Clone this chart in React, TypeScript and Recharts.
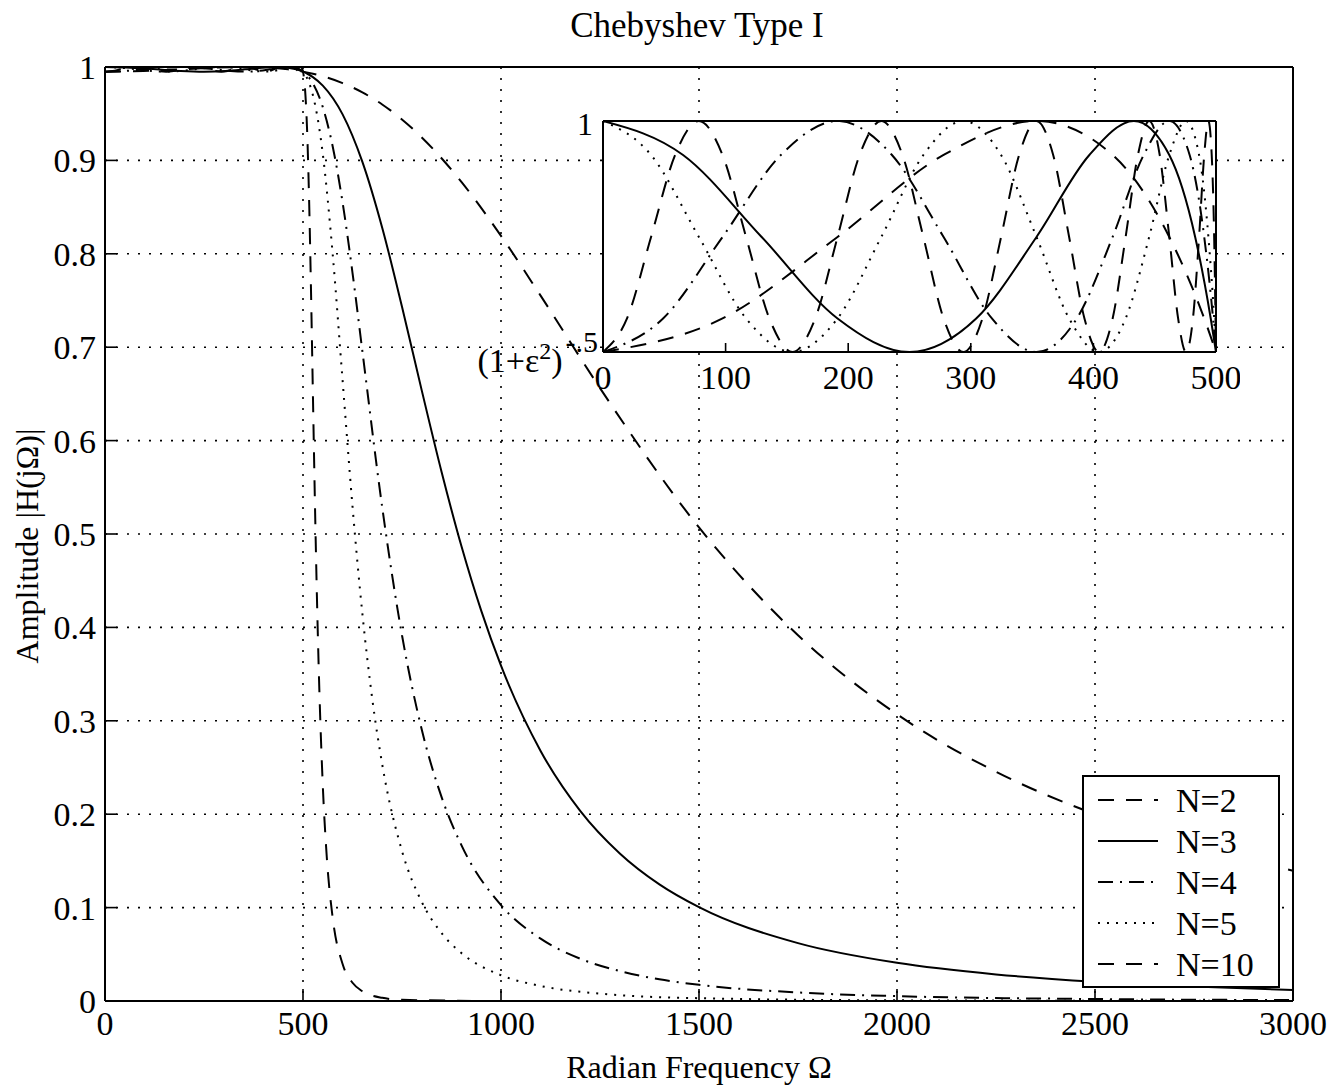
import React from 'react';
import { LineChart, Line, XAxis, YAxis, CartesianGrid, Legend } from 'recharts';

const FONT = '"Liberation Serif", "Times New Roman", Times, serif';

// ---- axis ticks ----
const xTicks = [0, 500, 1000, 1500, 2000, 2500, 3000];
const yTicks = [0, 0.1, 0.2, 0.3, 0.4, 0.5, 0.6, 0.7, 0.8, 0.9, 1];
const insetXTicks = [0, 100, 200, 300, 400, 500];
const insetYTicks = [0.99504, 1];

// ---- passband samples [Ω, |H|] (0..500), shown in the inset ----
const n2Pass = [[0, 0.99504], [97.5, 0.99576], [191.3, 0.99751], [277.8, 0.99927], [353.6, 1], [415.7, 0.99927], [461.9, 0.99751], [490.4, 0.99576], [500, 0.99504]];
const n3Pass = [[0, 1], [65.3, 0.99927], [129.4, 0.99751], [191.3, 0.99576], [250, 0.99504], [304.4, 0.99576], [353.6, 0.99751], [396.7, 0.99927], [433, 1], [461.9, 0.99927], [483, 0.99751], [495.7, 0.99576], [500, 0.99504]];
const n4Pass = [[0, 0.99504], [49, 0.99576], [97.5, 0.99751], [145.1, 0.99927], [191.3, 1], [235.7, 0.99927], [277.8, 0.99751], [317.2, 0.99576], [353.6, 0.99504], [386.5, 0.99576], [415.7, 0.99751], [441, 0.99927], [461.9, 1], [478.5, 0.99927], [490.4, 0.99751], [497.6, 0.99576], [500, 0.99504]];
const n5Pass = [[0, 1], [39.2, 0.99927], [78.2, 0.99751], [116.7, 0.99576], [154.5, 0.99504], [191.3, 0.99576], [227, 0.99751], [261.3, 0.99927], [293.9, 1], [324.7, 0.99927], [353.6, 0.99751], [380.2, 0.99576], [404.5, 0.99504], [426.3, 0.99576], [445.5, 0.99751], [461.9, 0.99927], [475.5, 1], [486.2, 0.99927], [493.8, 0.99751], [498.5, 0.99576], [500, 0.99504]];
const n10Pass = [[0, 0.99504], [19.6, 0.99576], [39.2, 0.99751], [58.8, 0.99927], [78.2, 1], [97.5, 0.99927], [116.7, 0.99751], [135.7, 0.99576], [154.5, 0.99504], [173.1, 0.99576], [191.3, 0.99751], [209.3, 0.99927], [227, 1], [244.3, 0.99927], [261.3, 0.99751], [277.8, 0.99576], [293.9, 0.99504], [309.5, 0.99576], [324.7, 0.99751], [339.4, 0.99927], [353.6, 1], [367.2, 0.99927], [380.2, 0.99751], [392.7, 0.99576], [404.5, 0.99504], [415.7, 0.99576], [426.3, 0.99751], [436.3, 0.99927], [445.5, 1], [454.1, 0.99927], [461.9, 0.99751], [469.1, 0.99576], [475.5, 0.99504], [481.2, 0.99576], [486.2, 0.99751], [490.4, 0.99927], [493.8, 1], [496.5, 0.99927], [498.5, 0.99751], [499.6, 0.99576], [500, 0.99504]];

// ---- stopband samples [Ω, |H|] (>500) ----
const n2Stop = [[525, 0.99281], [550, 0.9901], [600, 0.9828], [650, 0.9728], [700, 0.9599], [800, 0.9246], [900, 0.877], [1000, 0.8192], [1100, 0.7552], [1250, 0.6562], [1500, 0.507], [1750, 0.3916], [2000, 0.307], [2250, 0.2454], [2500, 0.2], [2750, 0.1657], [3000, 0.1395]];
const n3Stop = [[510, 0.99305], [525, 0.98921], [550, 0.98012], [600, 0.9493], [650, 0.8984], [700, 0.8279], [750, 0.7433], [800, 0.6535], [850, 0.5664], [900, 0.4871], [950, 0.4179], [1000, 0.359], [1100, 0.2677], [1200, 0.2036], [1300, 0.158], [1400, 0.1249], [1500, 0.1005], [1750, 0.062], [2000, 0.0409], [2250, 0.0285], [2500, 0.0206], [2750, 0.0154], [3000, 0.0118]];
const n4Stop = [[510, 0.99117], [525, 0.98234], [550, 0.957], [575, 0.9149], [600, 0.8549], [625, 0.7797], [650, 0.6956], [700, 0.5287], [750, 0.3916], [800, 0.2904], [850, 0.2183], [900, 0.1669], [1000, 0.1026], [1100, 0.0667], [1200, 0.0453], [1300, 0.032], [1400, 0.0232], [1500, 0.0173], [1750, 0.0091], [2000, 0.0052], [2500, 0.0021], [3000, 0.001]];
const n5Stop = [[510, 0.98832], [520, 0.97729], [530, 0.96066], [540, 0.9374], [550, 0.9068], [575, 0.7995], [600, 0.6643], [625, 0.5296], [650, 0.4144], [675, 0.3231], [700, 0.2534], [750, 0.1605], [800, 0.106], [850, 0.0726], [900, 0.0513], [1000, 0.0276], [1100, 0.0161], [1250, 0.0079], [1500, 0.003], [2000, 0.0007], [3000, 0.0001]];
const n10Stop = [[502.5, 0.98833], [505, 0.97714], [510, 0.9363], [515, 0.8652], [520, 0.7654], [525, 0.65], [530, 0.5363], [535, 0.4357], [540, 0.3519], [550, 0.2306], [560, 0.1545], [575, 0.089], [600, 0.0396], [625, 0.0195], [650, 0.0104], [700, 0.0034], [750, 0.0013], [1000, 0], [3000, 0]];

const seriesNames = ['N=2', 'N=3', 'N=4', 'N=5', 'N=10'];
const passSets = [n2Pass, n3Pass, n4Pass, n5Pass, n10Pass];
const stopSets = [n2Stop, n3Stop, n4Stop, n5Stop, n10Stop];
const dashes: (string | undefined)[] = ['16 12', undefined, '15 7 2 7', '2 7', '16 12'];

const toPts = (arr: number[][]) => arr.map(([w, a]) => ({ w, a }));

const series = seriesNames.map((name, i) => ({
  name,
  dash: dashes[i],
  inset: toPts(passSets[i]),
  main: toPts([...passSets[i], ...stopSets[i]]),
}));

const axisLineStyle = { stroke: '#000', strokeWidth: 2 };
const tickLineStyle = { stroke: '#000', strokeWidth: 1.6 };
const tickText = { fill: '#000', fontSize: 34, fontFamily: FONT };

const TitleLabel = () => (
  <text x={697} y={37} textAnchor="middle" fill="#000" fontSize={35} fontFamily={FONT}>
    Chebyshev Type I
  </text>
);

const YLabel = () => {
  const cx = 27;
  const cy = 546;
  return (
    <text x={cx} y={cy} transform={`rotate(-90 ${cx} ${cy})`} textAnchor="middle" dominantBaseline="central" fill="#000" fontSize={32} fontFamily={FONT}>
      Amplitude |H(jΩ)|
    </text>
  );
};

const InsetYTick = (props: any) => {
  const { x, y, payload } = props;
  if (payload.value === 1) {
    return (
      <text x={x - 2} y={y + 3} textAnchor="end" dominantBaseline="central" fill="#000" fontSize={32} fontFamily={FONT}>1</text>
    );
  }
  return (
    <text x={x + 3} y={y + 20} textAnchor="end" fill="#000" fontSize={34} fontFamily={FONT}>
      (1+ε<tspan dy={-13} fontSize={24}>2</tspan>
      <tspan dy={13}>)</tspan>
      <tspan dy={-20} dx={3} fontSize={30}>-.5</tspan>
    </text>
  );
};

const LegendBox = () => (
  <div style={{ width: 198, height: 213, border: '2px solid #000', background: '#fff', boxSizing: 'border-box' }}>
    <svg width={194} height={209} style={{ display: 'block' }}>
      {series.map((s, i) => {
        const y = 23 + i * 41;
        return (
          <g key={s.name}>
            <line x1={14} x2={74} y1={y} y2={y} stroke="#000" strokeWidth={2} strokeDasharray={s.dash} />
            <text x={92} y={y} dominantBaseline="central" fill="#000" fontSize={34} fontFamily={FONT}>{s.name}</text>
          </g>
        );
      })}
    </svg>
  </div>
);

export default function App() {
  return (
    <div style={{ position: 'absolute', left: 0, top: 0, width: 1335, height: 1086, background: '#fff', fontFamily: FONT }}>
      <LineChart width={1335} height={1086} margin={{ top: 66, right: 41, bottom: 0, left: 0 }}>
        <CartesianGrid stroke="#000" strokeWidth={1.6} strokeDasharray="2 9" />
        <XAxis
          dataKey="w"
          type="number"
          domain={[0, 3000]}
          ticks={xTicks}
          interval={0}
          allowDataOverflow
          height={85}
          tickSize={-12}
          tickMargin={22}
          axisLine={axisLineStyle}
          tickLine={tickLineStyle}
          tick={tickText}
          label={{ value: 'Radian Frequency Ω', position: 'insideBottom', offset: 8, fill: '#000', fontSize: 32, fontFamily: FONT }}
        />
        <XAxis
          xAxisId="t"
          orientation="top"
          dataKey="w"
          type="number"
          domain={[0, 3000]}
          ticks={xTicks}
          interval={0}
          height={1}
          tickSize={-12}
          axisLine={axisLineStyle}
          tickLine={tickLineStyle}
          tick={false}
          label={{ content: <TitleLabel /> }}
        />
        <YAxis
          type="number"
          domain={[0, 1]}
          ticks={yTicks}
          interval={0}
          allowDataOverflow
          width={105}
          tickSize={-12}
          tickMargin={21}
          axisLine={axisLineStyle}
          tickLine={tickLineStyle}
          tick={tickText}
          label={{ content: <YLabel /> }}
        />
        <YAxis
          yAxisId="r"
          orientation="right"
          type="number"
          domain={[0, 1]}
          ticks={yTicks}
          interval={0}
          width={1}
          tickSize={-12}
          axisLine={axisLineStyle}
          tickLine={tickLineStyle}
          tick={false}
        />
        {series.map((s) => (
          <Line
            key={s.name}
            name={s.name}
            data={s.main}
            dataKey="a"
            type="monotone"
            stroke="#000"
            strokeWidth={2}
            strokeDasharray={s.dash}
            dot={false}
            activeDot={false}
            isAnimationActive={false}
          />
        ))}
        <Legend
          layout="vertical"
          align="center"
          verticalAlign="middle"
          content={<LegendBox />}
          wrapperStyle={{ position: 'absolute', left: 1082, top: 775, width: 198, height: 213 }}
        />
      </LineChart>

      <div style={{ position: 'absolute', left: 440, top: 100 }}>
        <LineChart width={800} height={310} margin={{ top: 20, right: 23, bottom: 8, left: 0 }}>
          <CartesianGrid fill="#fff" horizontal={false} vertical={false} />
          <XAxis
            dataKey="w"
            type="number"
            domain={[0, 500]}
            ticks={insetXTicks}
            interval={0}
            allowDataOverflow
            height={50}
            tickSize={-9}
            tickMargin={22}
            axisLine={axisLineStyle}
            tickLine={tickLineStyle}
            tick={tickText}
          />
          <XAxis
            xAxisId="t"
            orientation="top"
            dataKey="w"
            type="number"
            domain={[0, 500]}
            ticks={insetXTicks}
            interval={0}
            height={1}
            tickSize={-9}
            axisLine={axisLineStyle}
            tickLine={tickLineStyle}
            tick={false}
          />
          <YAxis
            type="number"
            domain={[0.99504, 1]}
            ticks={insetYTicks}
            interval={0}
            allowDataOverflow
            width={163}
            tickSize={-8}
            tickMargin={16}
            axisLine={axisLineStyle}
            tickLine={tickLineStyle}
            tick={<InsetYTick />}
          />
          <YAxis
            yAxisId="r"
            orientation="right"
            type="number"
            domain={[0.99504, 1]}
            ticks={insetYTicks}
            interval={0}
            width={1}
            tickSize={-8}
            axisLine={axisLineStyle}
            tickLine={tickLineStyle}
            tick={false}
          />
          {series.map((s) => (
            <Line
              key={s.name}
              name={s.name}
              data={s.inset}
              dataKey="a"
              type="monotone"
              stroke="#000"
              strokeWidth={2}
              strokeDasharray={s.dash}
              dot={false}
              activeDot={false}
              isAnimationActive={false}
            />
          ))}
        </LineChart>
      </div>
    </div>
  );
}
